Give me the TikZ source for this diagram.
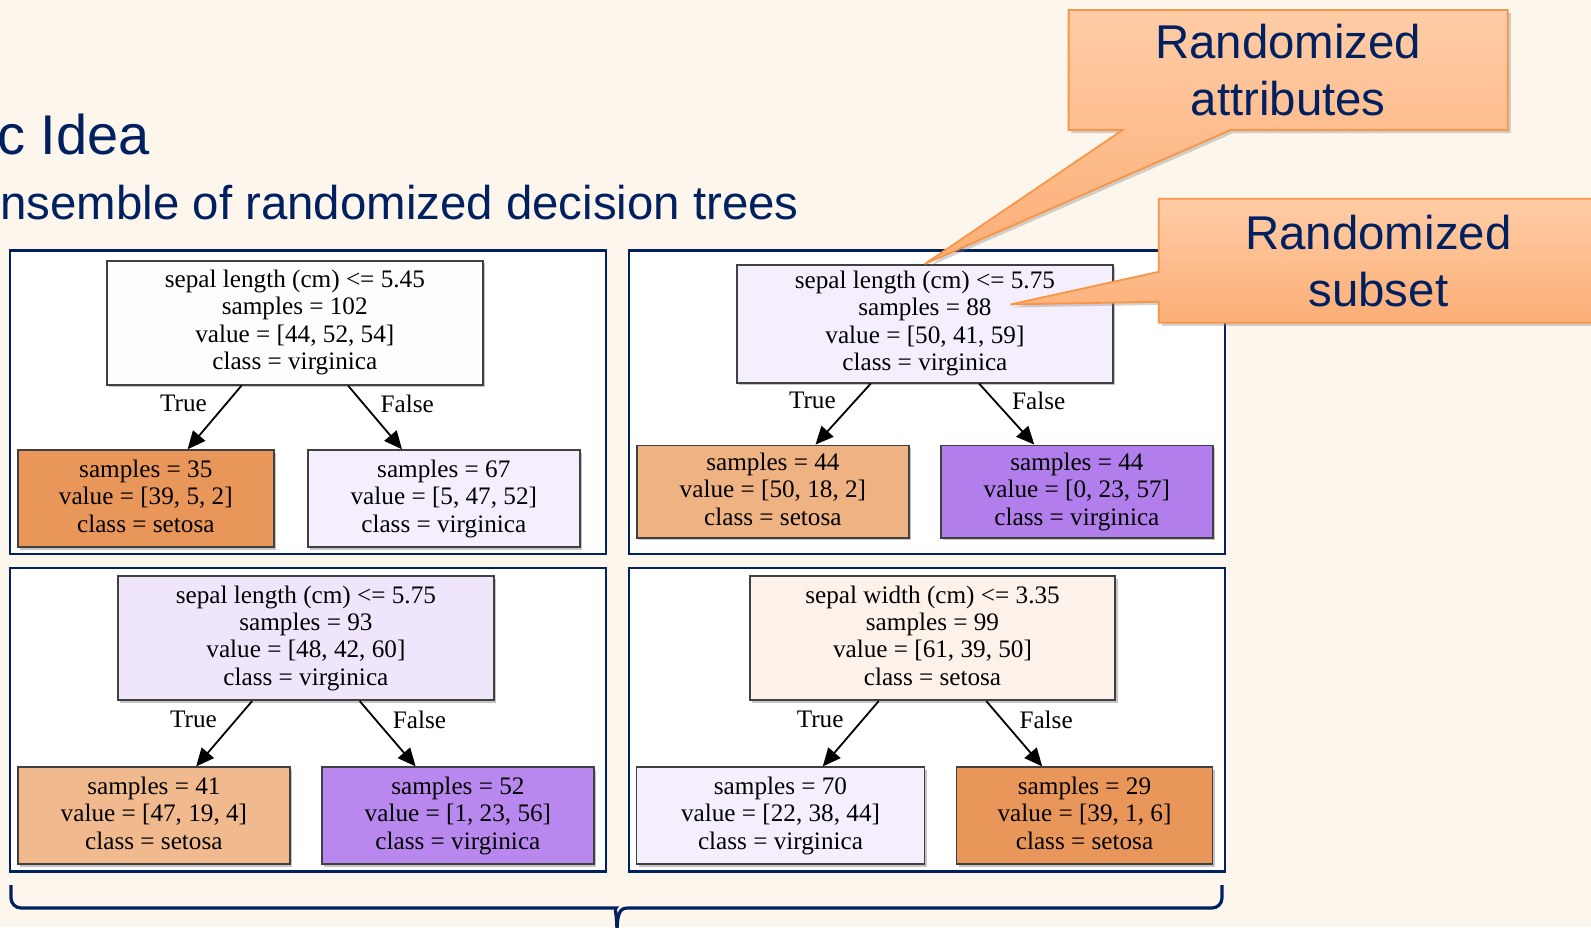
\documentclass[tikz,border=0pt]{standalone}
\usepackage{fontspec}
\setmainfont{Liberation Serif}
\newfontfamily\arialfont{Liberation Sans}
\usetikzlibrary{shapes.callouts,shadows,arrows.meta,calc}

\definecolor{slidebg}{RGB}{253,246,236}
\definecolor{navy}{RGB}{0,32,96}
\definecolor{boxline}{RGB}{64,64,64}
\definecolor{noteline}{RGB}{247,150,70}
\definecolor{notetop}{RGB}{255,204,166}
\definecolor{notebottom}{RGB}{252,174,118}
\definecolor{setosaA}{RGB}{233,150,90}
\definecolor{setosaB}{RGB}{239,178,131}
\definecolor{setosaC}{RGB}{240,186,142}
\definecolor{setosaD}{RGB}{252,242,234}
\definecolor{virgA}{RGB}{253,252,255}
\definecolor{virgB}{RGB}{244,238,253}
\definecolor{virgC}{RGB}{240,230,252}
\definecolor{virgD}{RGB}{178,126,236}
\definecolor{virgE}{RGB}{185,136,238}

\begin{document}
\begin{tikzpicture}[x=0.5pt, y=-0.5pt,
  panel/.style={draw=navy, line width=1.2pt, fill=white},
  split/.style={draw=boxline, line width=0.9pt, align=center, inner sep=0pt,
    font=\fontsize{12.6}{13.7}\selectfont, minimum width=188pt, minimum height=62pt,
    execute at begin node=\rule{0pt}{12.6pt}, execute at end node=\rule[-2.8pt]{0pt}{2.8pt},
    drop shadow={shadow xshift=1.2pt, shadow yshift=-1.2pt, fill=black!45, opacity=0.5}},
  leaf/.style={split, minimum width=136pt, minimum height=48.5pt},
  edge from parent/.style={draw, line width=0.9pt, -{Triangle[length=9pt,width=8pt]}},
  yes/.style={font=\fontsize{12.6}{13.7}\selectfont, pos=0.28, left=6pt},
  no/.style={font=\fontsize{12.6}{13.7}\selectfont, pos=0.28, right=5pt},
  heading/.style={text=navy, inner sep=0pt, anchor=base west},
  note/.style={rectangle callout, draw=noteline, line width=0.9pt, top color=notetop,
    bottom color=notebottom, text=navy, align=center, inner sep=0pt,
    font=\arialfont\fontsize{23.7}{28.4}\selectfont, minimum width=219.6pt, minimum height=60pt,
    drop shadow={shadow xshift=1.5pt, shadow yshift=-1.5pt, fill=black!50, opacity=0.35}},
  treebrace/.style={draw=navy, line width=1.6pt},
  level distance=88pt, sibling distance=152pt]

\useasboundingbox (0,0) rectangle (1591,927);
\fill[slidebg] (0,0) rectangle (1591,927);

% slide heading, cut at the left
\node[heading, font=\arialfont\fontsize{28}{32}\selectfont] (title) at (-3,154) {c Idea};
\node[heading, font=\arialfont\fontsize{23.7}{28}\selectfont] (subtitle) at (0,219) {nsemble of randomized decision trees};

% frames of the four trees
\draw[panel] (10,250.6) rectangle (605.8,554);
\draw[panel] (629.1,250.6) rectangle (1224.7,554);
\draw[panel] (10,568.2) rectangle (605.8,871.6);
\draw[panel] (629.1,568.2) rectangle (1224.7,871.6);

\node[split, fill=virgA] (r1) at (294.8,322.7) {sepal length (cm) <= 5.45\\samples = 102\\value = [44, 52, 54]\\class = virginica}
  [sibling distance=149pt]
  child {node[leaf, fill=setosaA, minimum width=128pt] (r1a) {samples = 35\\value = [39, 5, 2]\\class = setosa}
    edge from parent node[yes] (r1t) {True}}
  child {node[leaf, fill=virgB] (r1b) {samples = 67\\value = [5, 47, 52]\\class = virginica}
    edge from parent node[no] (r1f) {False}};

\node[split, fill=virgB, minimum height=58.9pt] (r2) at (924.9,323.7) {sepal length (cm) <= 5.75\\samples = 88\\value = [50, 41, 59]\\class = virginica}
  [level distance=84pt]
  child {node[leaf, fill=setosaB, minimum height=46.2pt] (r2a) {samples = 44\\value = [50, 18, 2]\\class = setosa}
    edge from parent node[yes] (r2t) {True}}
  child {node[leaf, fill=virgD, minimum height=46.2pt] (r2b) {samples = 44\\value = [0, 23, 57]\\class = virginica}
    edge from parent node[no] (r2f) {False}};

\node[split, fill=virgC] (r3) at (305.9,638.2) {sepal length (cm) <= 5.75\\samples = 93\\value = [48, 42, 60]\\class = virginica}
  [level distance=88.8pt]
  child {node[leaf, fill=setosaC] (r3a) {samples = 41\\value = [47, 19, 4]\\class = setosa}
    edge from parent node[yes] (r3t) {True}}
  child {node[leaf, fill=virgE] (r3b) {samples = 52\\value = [1, 23, 56]\\class = virginica}
    edge from parent node[no] (r3f) {False}};

\node[split, fill=setosaD, minimum width=182.6pt] (r4) at (932.5,638.2) {sepal width (cm) <= 3.35\\samples = 99\\value = [61, 39, 50]\\class = setosa}
  [level distance=88.8pt]
  child {node[leaf, fill=virgB, minimum width=144pt] (r4a) {samples = 70\\value = [22, 38, 44]\\class = virginica}
    edge from parent node[yes] (r4t) {True}}
  child {node[leaf, fill=setosaA, minimum width=128pt] (r4b) {samples = 29\\value = [39, 1, 6]\\class = setosa}
    edge from parent node[no] (r4f) {False}};

% brace under the ensemble
\draw[treebrace] (11,885) [rounded corners=5pt] |- (606,908) [sharp corners]
  .. controls (614,908) and (617,912) .. (617,935)
  .. controls (617,912) and (620,908) .. (628,908) [rounded corners=5pt] -| (1222,885);

% callouts
\node[note, callout absolute pointer={(r2.north)}, callout pointer width=54pt] (attrnote) at (1288.2,70) {Randomized\\attributes};
\coordinate (subsettip) at ($(r2.center)+(85.7,-19.3)$);
\node[note, callout absolute pointer={(subsettip)}, callout pointer width=15pt, minimum height=62pt] (subsetnote) at (1378.4,260.8) {Randomized\\subset};
\end{tikzpicture}
\end{document}
